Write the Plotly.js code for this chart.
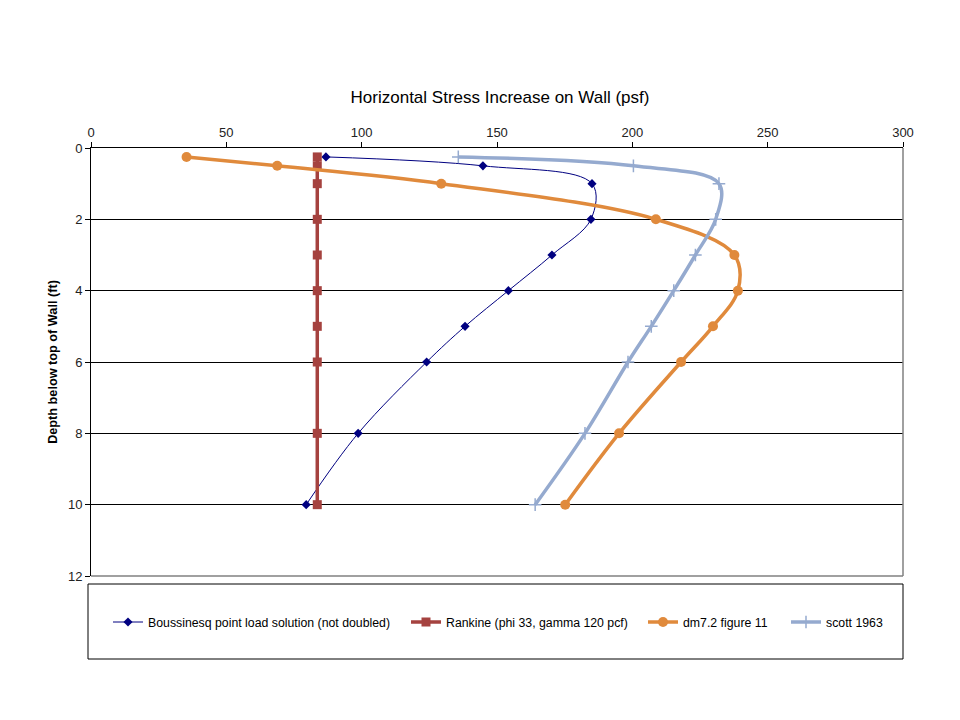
<!DOCTYPE html>
<html>
<head>
<meta charset="utf-8">
<script src="https://cdn.plot.ly/plotly-3.0.1.min.js"></script>
<style>html,body{margin:0;padding:0;background:#fff;}#chart{width:960px;height:720px;}</style>
</head>
<body>
<div id="chart"></div>
<script>
// Data
const depthBoussinesq = [0.25, 0.5, 1, 2, 3, 4, 5, 6, 8, 10];
const stressBoussinesq = [86.8, 144.8, 185.1, 184.7, 170.3, 154.2, 138.2, 124.0, 98.7, 79.5];

const depthRankine = [0.25, 0.5, 1, 2, 3, 4, 5, 6, 8, 10];
const stressRankine = [83.6, 83.6, 83.6, 83.6, 83.6, 83.6, 83.6, 83.6, 83.6, 83.6];

const depthDM72 = [0.25, 0.5, 1, 2, 3, 4, 5, 6, 8, 10];
const stressDM72 = [35.3, 68.8, 129.4, 208.7, 237.7, 239.0, 229.8, 218.0, 195.1, 175.2];

const depthScott = [0.25, 0.5, 1, 2, 3, 4, 5, 6, 8, 10];
const stressScott = [135.7, 200.4, 232.0, 230.8, 223.3, 215.3, 207.0, 198.4, 182.5, 164.1];

const seriesNames = [
  "Boussinesq point load solution (not doubled)",
  "Rankine (phi 33, gamma 120 pcf)",
  "dm7.2 figure 11",
  "scott 1963"
];
const xTickVals = [0, 50, 100, 150, 200, 250, 300];
const yTickVals = [0, 2, 4, 6, 8, 10, 12];

const FONT = "Liberation Sans, Arial, sans-serif";

const traces = [
  {
    x: stressBoussinesq, y: depthBoussinesq, name: seriesNames[0], legend: "legend",
    mode: "lines+markers", line: {color: "#000080", width: 1, shape: "spline"},
    marker: {symbol: "diamond", size: 7, color: "#000080"}
  },
  {
    x: stressRankine, y: depthRankine, name: seriesNames[1], legend: "legend2",
    mode: "lines+markers", line: {color: "#A5423F", width: 3.5},
    marker: {symbol: "square", size: 9, color: "#A5423F"}
  },
  {
    x: stressDM72, y: depthDM72, name: seriesNames[2], legend: "legend3",
    mode: "lines+markers", line: {color: "#E08A3C", width: 3.5, shape: "spline"},
    marker: {symbol: "circle", size: 10, color: "#E08A3C"}
  },
  {
    x: stressScott, y: depthScott, name: seriesNames[3], legend: "legend4",
    mode: "lines+markers", line: {color: "#95AACF", width: 3.5, shape: "spline"},
    marker: {symbol: "cross-thin", size: 9, color: "#95AACF", line: {color: "#95AACF", width: 1.5}}
  }
];

const L = 91, R = 903, T = 148, B = 576;
const W = R - L, H = B - T;
function px(p) { return (p - L) / W; }
function py(p) { return (B - p) / H; }

const legendCommon = {
  orientation: "h", yanchor: "middle", xanchor: "left", y: py(622),
  bgcolor: "rgba(0,0,0,0)", borderwidth: 0,
  font: {family: FONT, size: 12.3, color: "#000"}
};

const layout = {
  width: 960, height: 720,
  paper_bgcolor: "#fff", plot_bgcolor: "#fff",
  margin: {l: L, r: 960 - R, t: T, b: 720 - B, pad: 0},
  title: {
    text: "Horizontal Stress Increase on Wall (psf)",
    font: {family: FONT, size: 17, color: "#000"},
    x: 500 / 960, xanchor: "center", y: 1 - 97 / 720, yanchor: "middle"
  },
  xaxis: {
    side: "top", range: [0, 300], tickvals: xTickVals, ticktext: xTickVals.map(String),
    showgrid: false, zeroline: false, showline: true, linecolor: "#000", linewidth: 1,
    ticks: "outside", ticklen: 5, tickcolor: "#000",
    tickfont: {family: FONT, size: 13, color: "#222"}
  },
  yaxis: {
    range: [12, 0], tickvals: yTickVals, ticktext: yTickVals.map(String),
    showgrid: true, gridcolor: "#000", gridwidth: 1, zeroline: false,
    showline: true, linecolor: "#000", linewidth: 1,
    ticks: "outside", ticklen: 5, tickcolor: "#000",
    tickfont: {family: FONT, size: 13, color: "#222"},
    title: {text: "<b>Depth below top of Wall (ft)</b>", font: {family: FONT, size: 12.7, color: "#000"}, standoff: 7}
  },
  showlegend: true,
  legend: Object.assign({}, legendCommon, {x: px(108)}),
  legend2: Object.assign({}, legendCommon, {x: px(406)}),
  legend3: Object.assign({}, legendCommon, {x: px(643)}),
  legend4: Object.assign({}, legendCommon, {x: px(786)}),
  shapes: [
    {type: "line", xref: "paper", yref: "paper", x0: 0, x1: 1, y0: 0, y1: 0,
     line: {color: "#808080", width: 1.5}, layer: "above"},
    {type: "line", xref: "paper", yref: "paper", x0: 1, x1: 1, y0: 0, y1: 1,
     line: {color: "#808080", width: 1.5}, layer: "above"},
    {type: "rect", xref: "paper", yref: "paper", x0: px(88), x1: px(903), y0: py(584), y1: py(659),
     line: {color: "#000", width: 1}, fillcolor: "rgba(0,0,0,0)", layer: "above"}
  ]
};

Plotly.newPlot("chart", traces, layout, {displayModeBar: false, staticPlot: true});
</script>
</body>
</html>
